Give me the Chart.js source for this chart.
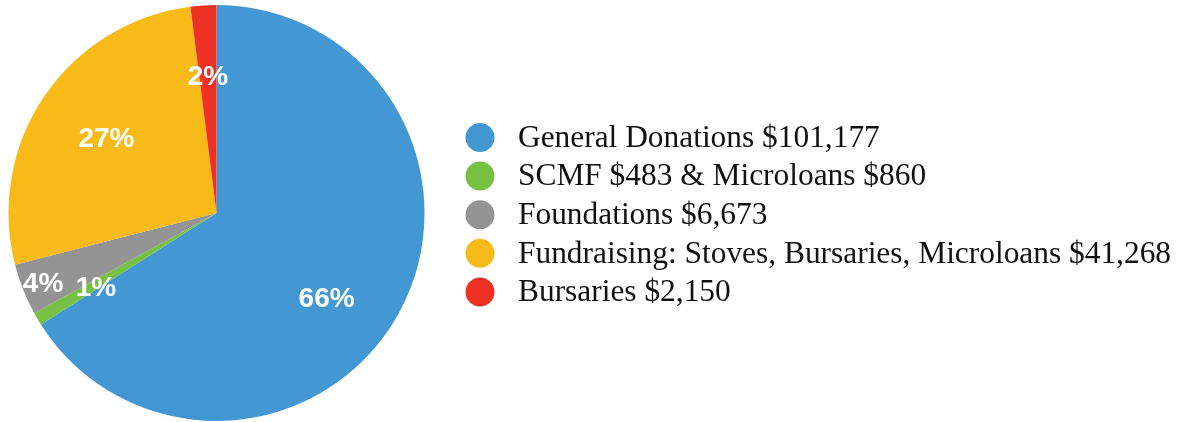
<!DOCTYPE html>
<html><head><meta charset="utf-8">
<script src="https://cdn.jsdelivr.net/npm/chart.js@4/dist/chart.umd.min.js"></script>
<style>html,body{margin:0;padding:0;background:#fff;}#wrap{width:1192px;height:422px;position:relative;}</style>
</head><body><div id="wrap"><canvas id="c" width="1192" height="422"></canvas></div>
<script>
const categories = [
  "General Donations $101,177",
  "SCMF $483 & Microloans $860",
  "Foundations $6,673",
  "Fundraising: Stoves, Bursaries, Microloans $41,268",
  "Bursaries $2,150"
];
const shares = [66, 1, 4, 27, 2];
const sliceLabels = ["66%", "1%", "4%", "27%", "2%"];
const colors = ["#4398D4", "#76C043", "#949494", "#F7BA18", "#EE3124"];
const labelRadius = [0.67, 0.68, 0.90, 0.64, 0.66];
const labelAngleShift = [9, -1, -0.5, 0, 0];

const sliceLabelPlugin = {
  id: 'sliceLabels',
  afterDatasetsDraw(chart) {
    const ctx = chart.ctx;
    const meta = chart.getDatasetMeta(0);
    ctx.save();
    ctx.font = 'bold 28px "Liberation Sans", Arial, sans-serif';
    ctx.fillStyle = '#ffffff';
    ctx.textAlign = 'center';
    ctx.textBaseline = 'middle';
    meta.data.forEach((arc, i) => {
      const p = arc.getProps(['x','y','startAngle','endAngle','outerRadius'], true);
      const a = (p.startAngle + p.endAngle) / 2 + labelAngleShift[i] * Math.PI / 180;
      const r = p.outerRadius * labelRadius[i];
      ctx.fillText(sliceLabels[i], p.x + Math.cos(a) * r, p.y + Math.sin(a) * r + 1);
    });
    ctx.restore();
  }
};

const legendPlugin = {
  id: 'sideLegend',
  afterDraw(chart) {
    const ctx = chart.ctx;
    const x0 = 480, y0 = 137.5, step = 38.6, rad = 14.5;
    ctx.save();
    ctx.font = '31.4px "Liberation Serif", "Times New Roman", serif';
    ctx.textBaseline = 'middle';
    ctx.textAlign = 'left';
    chart.data.labels.forEach((lab, i) => {
      const y = y0 + i * step;
      ctx.fillStyle = chart.data.datasets[0].backgroundColor[i];
      ctx.beginPath();
      ctx.arc(x0, y, rad, 0, Math.PI * 2);
      ctx.fill();
      ctx.fillStyle = '#111111';
      ctx.fillText(lab, 518, y + 1);
    });
    ctx.restore();
  }
};

new Chart(document.getElementById('c'), {
  type: 'pie',
  data: {
    labels: categories,
    datasets: [{ data: shares, backgroundColor: colors, borderWidth: 0 }]
  },
  options: {
    responsive: false,
    animation: false,
    layout: { padding: { left: 8, top: 5, bottom: 1, right: 767 } },
    plugins: { legend: { display: false }, tooltip: { enabled: false } }
  },
  plugins: [sliceLabelPlugin, legendPlugin]
});
</script></body></html>
